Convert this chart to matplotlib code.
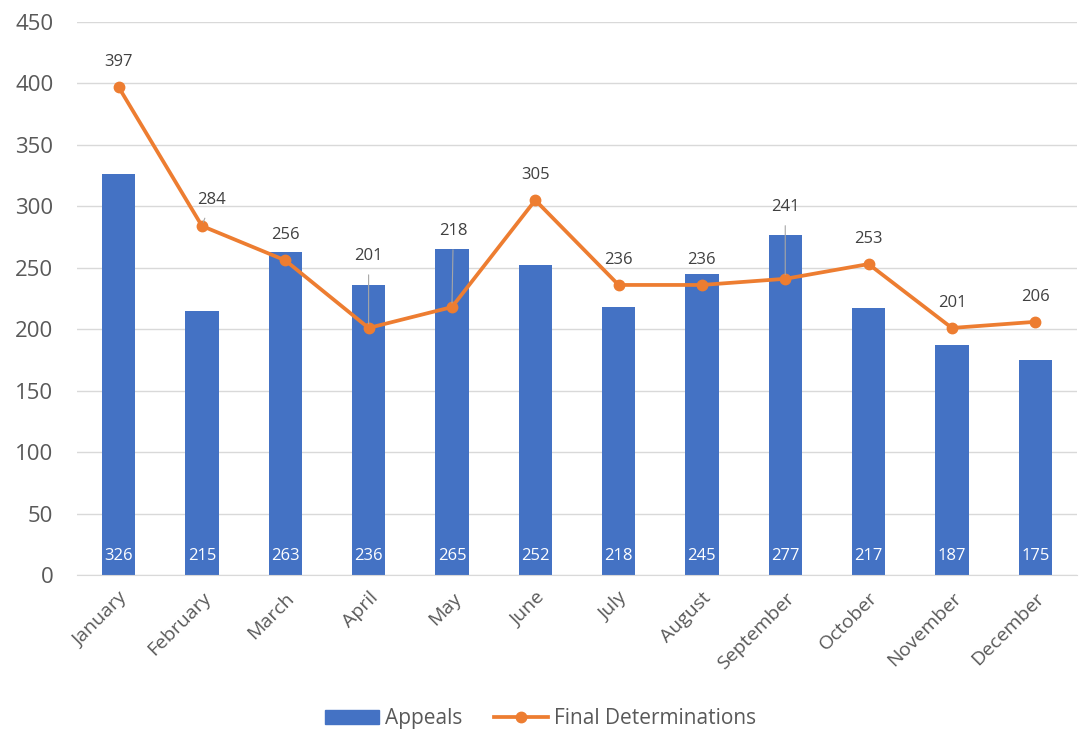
import matplotlib.pyplot as plt
from matplotlib.lines import Line2D
from matplotlib.patches import Patch
import numpy as np

months = ["January", "February", "March", "April", "May", "June", "July",
          "August", "September", "October", "November", "December"]
appeals = [326, 215, 263, 236, 265, 252, 218, 245, 277, 217, 187, 175]
final_det = [397, 284, 256, 201, 218, 305, 236, 236, 241, 253, 201, 206]

# label offsets (points) for the line labels; some use leader lines
offsets = {1: (7, 19), 3: (0, 52), 4: (1, 55), 8: (0, 52)}

blue = "#4472C4"
orange = "#ED7D31"
grey = "#595959"

plt.rcParams['font.family'] = ['Open Sans', 'DejaVu Sans']

fig = plt.figure(figsize=(10.81, 7.32), dpi=100)
ax = fig.add_axes([0.0712, 0.2145, 0.925, 0.7555])

x = np.arange(len(months))
ax.bar(x, appeals, width=0.4, color=blue, zorder=2)
ax.plot(x, final_det, color=orange, lw=2.7, marker="o", ms=7.5, zorder=3)

for i, v in enumerate(appeals):
    ax.annotate(str(v), (x[i], 0), xytext=(0, 14), textcoords="offset points",
                ha="center", va="center", color="white", fontsize=12)

for i, v in enumerate(final_det):
    dx, dy = offsets.get(i, (0, 18))
    arrow = None
    if i in offsets:
        arrow = dict(arrowstyle="-", color="#A6A6A6", lw=0.8, shrinkA=6, shrinkB=3)
    ax.annotate(str(v), (x[i], v), xytext=(dx, dy), textcoords="offset points",
                ha="center", va="center", color="#404040", fontsize=12,
                arrowprops=arrow)

ax.set_xlim(-0.5, len(months) - 0.5)
ax.set_ylim(0, 450)
ax.set_yticks(range(0, 451, 50))
ax.set_xticks(x)
ax.set_xticklabels(months, rotation=45, ha="right", rotation_mode="anchor")
ax.tick_params(axis="y", length=0, labelsize=16, labelcolor=grey, pad=17)
ax.tick_params(axis="x", length=0, labelsize=14, labelcolor=grey, pad=10)
ax.grid(axis="y", color="#D9D9D9", lw=1, zorder=0)
ax.set_axisbelow(True)
for s in ["top", "right", "left"]:
    ax.spines[s].set_visible(False)
ax.spines["bottom"].set_color("#D9D9D9")

handles = [Patch(color=blue, label="Appeals"),
           Line2D([0], [0], color=orange, lw=2.7, marker="o", ms=7.5,
                  label="Final Determinations")]
fig.legend(handles=handles, loc="center", bbox_to_anchor=(0.5, 0.018),
           ncol=2, frameon=False, fontsize=15, labelcolor=grey,
           handlelength=2.6, handletextpad=0.3, columnspacing=1.5)

fig.savefig("out.png", dpi=100)
